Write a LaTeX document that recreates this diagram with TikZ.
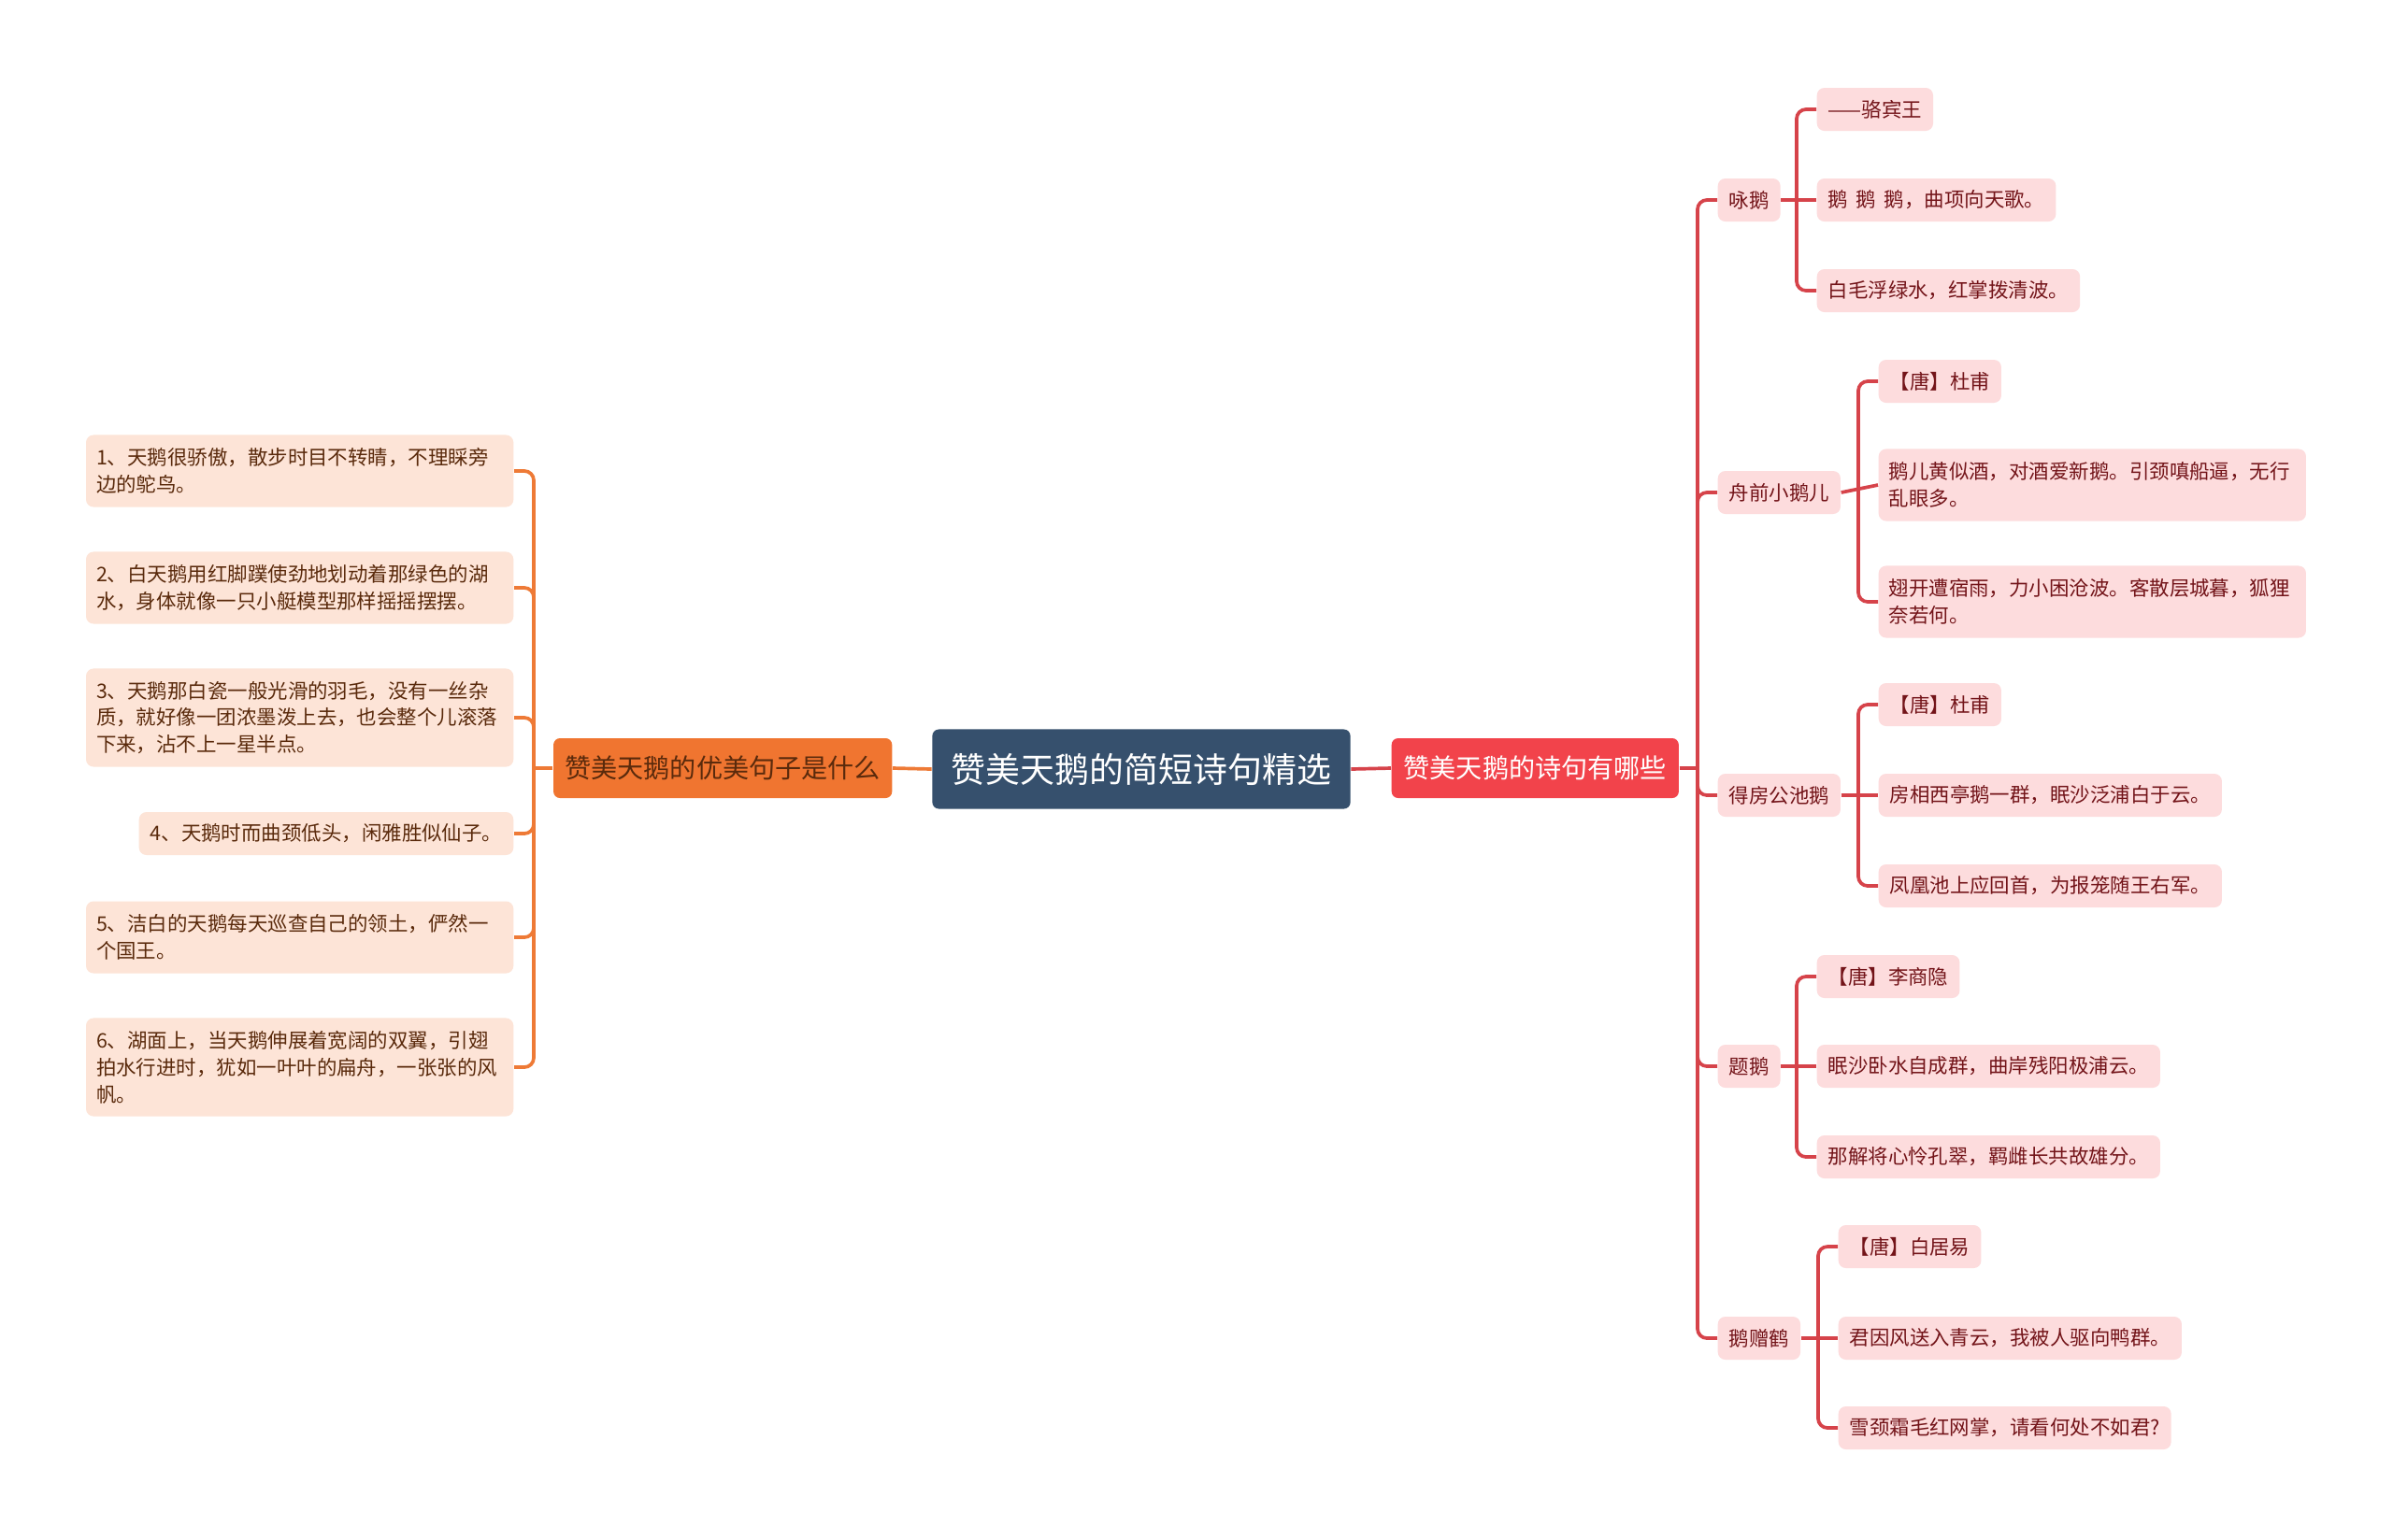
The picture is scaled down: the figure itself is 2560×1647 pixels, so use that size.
\documentclass[tikz,border=0pt]{standalone}
\usepackage{fontspec}
\setmainfont{Noto Sans CJK SC}
\usetikzlibrary{positioning,calc}
\definecolor{HubBlue}{HTML}{36506D}
\definecolor{SwanOrange}{HTML}{F07530}
\definecolor{SwanRed}{HTML}{F2434B}
\definecolor{LineOrange}{HTML}{EE7A36}
\definecolor{LineRed}{HTML}{D6434A}
\definecolor{PeachFill}{HTML}{FDE4D7}
\definecolor{PinkFill}{HTML}{FDDCDD}
\definecolor{BrownText}{HTML}{5A2A0C}
\definecolor{WineText}{HTML}{731419}
\tikzset{
  hub/.style={rectangle,rounded corners=0.07cm,fill=HubBlue,text=white,
    font=\fontsize{10.5pt}{12pt}\selectfont,minimum width=4.47cm,minimum height=0.85cm},
  lbranch/.style={rectangle,rounded corners=0.07cm,fill=SwanOrange,text=BrownText,
    font=\fontsize{8pt}{10pt}\selectfont,minimum width=3.62cm,minimum height=0.64cm,anchor=east},
  rbranch/.style={rectangle,rounded corners=0.07cm,fill=SwanRed,text=white,
    font=\fontsize{8pt}{10pt}\selectfont,minimum width=3.07cm,minimum height=0.64cm,anchor=west},
  lleaf/.style={rectangle,rounded corners=0.08cm,fill=PeachFill,text=BrownText,
    font=\fontsize{6.1pt}{8.2pt}\selectfont,inner xsep=0.12cm,inner ysep=0pt,minimum height=0.46cm,anchor=east},
  lwide/.style={lleaf,inner xsep=0.11cm,text width=4.35cm,align=left,minimum height=0.77cm},
  rleaf/.style={rectangle,rounded corners=0.08cm,fill=PinkFill,text=WineText,
    font=\fontsize{6.1pt}{8.2pt}\selectfont,inner xsep=0.12cm,inner ysep=0pt,minimum height=0.46cm,anchor=west},
  rwide/.style={rleaf,inner xsep=0.11cm,text width=4.35cm,align=left,minimum height=0.77cm},
  lcon/.style={draw=LineOrange,line width=1.05pt},
  rcon/.style={draw=LineRed,line width=1.05pt},
}
\begin{document}
\begin{tikzpicture}[x=0.01cm,y=-0.01cm]
\fill[white] (0,0) rectangle (2560,1647);
\useasboundingbox (0,0) rectangle (2560,1647);
\node[hub] (top) at (1221,823) {赞美天鹅的简短诗句精选};
\node[lbranch] (lm) at (955,822) {赞美天鹅的优美句子是什么};
\node[rbranch] (rm) at (1488,822) {赞美天鹅的诗句有哪些};
\draw[lcon] (top.west) -- (lm.east);
\draw[rcon] (top.east) -- (rm.west);
% left side
\coordinate (lb) at (571,0);
\node[lwide] (l1) at (550,504) {1、天鹅很骄傲，散步时目不转睛，不理睬旁\\边的鸵鸟。};
\node[lwide] (l2) at (550,629) {2、白天鹅用红脚蹼使劲地划动着那绿色的湖\\水，身体就像一只小艇模型那样摇摇摆摆。};
\node[lwide,minimum height=1.05cm] (l3) at (550,768) {3、天鹅那白瓷一般光滑的羽毛，没有一丝杂\\质，就好像一团浓墨泼上去，也会整个儿滚落\\下来，沾不上一星半点。};
\node[lleaf] (l4) at (550,892) {4、天鹅时而曲颈低头，闲雅胜似仙子。};
\node[lwide] (l5) at (550,1003) {5、洁白的天鹅每天巡查自己的领土，俨然一\\个国王。};
\node[lwide,minimum height=1.05cm] (l6) at (550,1142) {6、湖面上，当天鹅伸展着宽阔的双翼，引翅\\拍水行进时，犹如一叶叶的扁舟，一张张的风\\帆。};
\draw[lcon] (lm.west) -- (lm.west -| lb);
\foreach \n in {l1,l2,l3,l4,l5,l6}
  \draw[lcon,rounded corners=0.1cm] (lm.west -| lb) |- (\n.east);
% right side
\coordinate (rb) at (1816,0);
\node[rleaf] (g1) at (1837,214) {咏鹅};
\node[rleaf] (g2) at (1837,527) {舟前小鹅儿};
\node[rleaf] (g3) at (1837,851) {得房公池鹅};
\node[rleaf] (g4) at (1837,1141) {题鹅};
\node[rleaf] (g5) at (1837,1432) {鹅赠鹤};
\draw[rcon] (rm.east) -- (rm.east -| rb);
\foreach \n in {g1,g2,g3,g4,g5}
  \draw[rcon,rounded corners=0.1cm] (rm.east -| rb) |- (\n.west);
\coordinate (b1) at (1922,0);
\node[rleaf] (g1a) at (1943,117) {——骆宾王};
\node[rleaf] (g1b) at (1943,214) {鹅\hspace{0.4em}鹅\hspace{0.4em}鹅，曲项向天歌。};
\node[rleaf] (g1c) at (1943,311) {白毛浮绿水，红掌拨清波。};
\coordinate (b2) at (1988,0);
\node[rleaf] (g2a) at (2009,408) {【唐】杜甫};
\node[rwide] (g2b) at (2009,519) {鹅儿黄似酒，对酒爱新鹅。引颈嗔船逼，无行\\乱眼多。};
\node[rwide] (g2c) at (2009,644) {翅开遭宿雨，力小困沧波。客散层城暮，狐狸\\奈若何。};
\coordinate (b3) at (1988,0);
\node[rleaf] (g3a) at (2009,754) {【唐】杜甫};
\node[rleaf] (g3b) at (2009,851) {房相西亭鹅一群，眠沙泛浦白于云。};
\node[rleaf] (g3c) at (2009,948) {凤凰池上应回首，为报笼随王右军。};
\coordinate (b4) at (1922,0);
\node[rleaf] (g4a) at (1943,1045) {【唐】李商隐};
\node[rleaf] (g4b) at (1943,1141) {眠沙卧水自成群，曲岸残阳极浦云。};
\node[rleaf] (g4c) at (1943,1238) {那解将心怜孔翠，羁雌长共故雄分。};
\coordinate (b5) at (1945,0);
\node[rleaf] (g5a) at (1966,1334) {【唐】白居易};
\node[rleaf] (g5b) at (1966,1432) {君因风送入青云，我被人驱向鸭群。};
\node[rleaf] (g5c) at (1966,1528) {雪颈霜毛红网掌，请看何处不如君?};
\foreach \p/\b in {g1/b1,g2/b2,g3/b3,g4/b4,g5/b5} {
  \draw[rcon] (\p.east) -- (\p b.west);
  \draw[rcon,rounded corners=0.1cm] (\p.east -| \b) |- (\p a.west);
  \draw[rcon,rounded corners=0.1cm] (\p.east -| \b) |- (\p c.west);
}
\end{tikzpicture}
\end{document}
